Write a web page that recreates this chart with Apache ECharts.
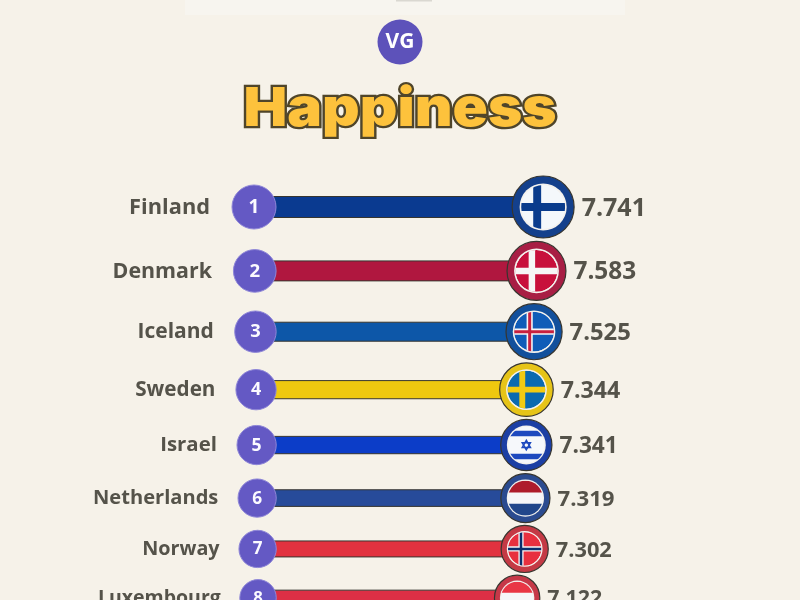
<!DOCTYPE html>
<html><head><meta charset="utf-8">
<style>html,body{margin:0;padding:0;background:#f6f2e9}#c{width:800px;height:600px}</style>
<script src="https://cdn.jsdelivr.net/npm/echarts@6/dist/echarts.min.js"></script>
</head><body><div id="c"></div>
<script>
const countries=['Finland','Denmark','Iceland','Sweden','Israel','Netherlands','Norway','Luxembourg'];
const scores=[7.741,7.583,7.525,7.344,7.341,7.319,7.302,7.122];
const ranks=[1,2,3,4,5,6,7,8];
const barColors=['#0a3a90','#b0173f','#0d57a8','#eec80f','#0c3dc8','#274b9a','#e2323f','#dc2f45'];
const ringColors=['#14408c','#a81e44','#12509c','#e6c418','#1c3fa4','#2b4b90','#c43a45','#c63848'];
const flagKinds=['nordic','nordic','nordic2','nordic','israel','tricolor','nordic2','tricolor'];
const flagBase=['#f4f8fb','#c8103c','#0f5cb8','#0a6ab0','#f6f8fb','#f6f6f8','#e8303f','#f6f6f8'];
const flagCross=['#0a3c8c','#f6f6f6','#f4f4f6','#f2cb12','#1d49bf','#ae1c2c','#f4f4f6','#e93645'];
const flagInner=['','','#c8203f','','','#21468b','#0c2d6b','#3aa0dc'];

const DEPTH=18;                    // perspective offset of the rows
const depth=r=>Math.log(r+DEPTH);
const shrink=r=>(1+DEPTH)/(r+DEPTH);
const INK='#55534a', EDGE='#37352f', PURPLE='#6459c4';

function flag(i,cx,cy,R){
  const k=flagKinds[i],base=flagBase[i],c=flagCross[i],n=flagInner[i],ch=[];
  const rect=(x,y,w,h,fill)=>({type:'rect',shape:{x:cx+x*R,y:cy+y*R,width:w*R,height:h*R},style:{fill}});
  ch.push({type:'circle',shape:{cx,cy,r:R},style:{fill:base}});
  if(k==='nordic'||k==='nordic2'){
    const t=i===0?0.36:0.31, vx=i===0?-0.27:-0.22;
    ch.push(rect(-1,-t/2,2,t,c),rect(vx-t/2,-1,t,2,c));
    if(k==='nordic2'){ch.push(rect(-1,-0.075,2,0.15,n),rect(vx-0.075,-1,0.15,2,n));}
  }else if(k==='tricolor'){
    ch.push(rect(-1,-1,2,0.68,c),rect(-1,0.33,2,0.68,n));
  }else{
    ch.push(rect(-1,-0.78,2,0.3,c),rect(-1,0.48,2,0.3,c));
    const s=0.26,tri=d=>[[cx,cy+d*s*R],[cx-0.87*s*R,cy-d*0.5*s*R],[cx+0.87*s*R,cy-d*0.5*s*R]];
    ch.push({type:'polygon',shape:{points:tri(-1)},style:{fill:'none',stroke:c,lineWidth:1.5}},
            {type:'polygon',shape:{points:tri(1)},style:{fill:'none',stroke:c,lineWidth:1.5}});
  }
  return {type:'group',clipPath:{type:'circle',shape:{cx,cy,r:R}},children:ch};
}

function renderRow(params,api){
  const i=params.dataIndex,r=api.value(2),s=shrink(r);
  const [cx,cy]=api.coord([api.value(0),api.value(1)]);
  const x0=api.coord([0,api.value(1)])[0];
  const startX=x0+36+(1-s)*15;
  const barH=21*s, ringR=31*s, rankR=22*Math.pow(s,0.6), nameSize=21.8*Math.pow(s,0.35), valSize=25*Math.pow(s,0.5);
  const ch=[];
  ch.push({type:'rect',shape:{x:startX,y:cy-barH/2,width:cx-startX,height:barH},style:{fill:barColors[i],stroke:EDGE,lineWidth:1}});
  ch.push({type:'circle',shape:{cx:startX,cy,r:rankR},style:{fill:PURPLE,stroke:'#8f87d8',lineWidth:1}});
  ch.push({type:'text',style:{text:String(r),x:startX,y:cy+0.5,align:'center',verticalAlign:'middle',fill:'#fbfaff',font:'700 '+(19*Math.pow(s,0.4)).toFixed(1)+'px "Open Sans"'}});
  ch.push({type:'text',style:{text:countries[i],x:x0-8+(1-s)*40,y:cy+0.5,align:'right',verticalAlign:'middle',fill:INK,font:'700 '+nameSize.toFixed(1)+'px "Open Sans"'}});
  ch.push({type:'circle',shape:{cx,cy,r:ringR},style:{fill:ringColors[i],stroke:EDGE,lineWidth:1.2}});
  ch.push({type:'circle',shape:{cx,cy,r:ringR*0.76},style:{fill:'#f4f2ee'}});
  ch.push(flag(i,cx,cy,ringR*0.71));
  ch.push({type:'text',style:{text:scores[i].toFixed(3),x:cx+ringR+7.5,y:cy+1.5,align:'left',verticalAlign:'middle',fill:INK,font:'700 '+valSize.toFixed(1)+'px "Open Sans"'}});
  return {type:'group',children:ch};
}

const rowData=ranks.map((r,i)=>[scores[i],depth(r),r]);
const topD=depth(1)-207/1246, botD=depth(1)+393/1246;
const chart=echarts.init(document.getElementById('c'),null,{renderer:'canvas',width:800,height:600});
chart.setOption({
  animation:false,
  backgroundColor:'#f6f2e9',
  grid:{left:218,right:0,top:0,bottom:0},
  xAxis:{type:'value',min:0,max:13.857,show:false},
  yAxis:{type:'value',min:topD,max:botD,inverse:true,show:false},
  graphic:[
    {type:'rect',shape:{x:185,y:0,width:440,height:15},style:{fill:'#f7f5ef'},z:0},
    {type:'rect',shape:{x:396,y:0,width:36,height:1.5},style:{fill:'#dad8d1'},z:0},
    {type:'group',children:[
      {type:'circle',shape:{cx:400,cy:42,r:22.5},style:{fill:'#5d52ba'}},
      {type:'text',style:{text:'VG',x:400,y:42,align:'center',verticalAlign:'middle',fill:'#fff',font:'700 21px "Open Sans"'}}
    ]},
    {type:'text',x:400,y:110,originX:0,originY:0,scaleX:1.08,scaleY:1,
     style:{text:'Happiness',x:0,y:0,align:'center',verticalAlign:'middle',font:'900 54px Inter',fill:'#fdc23c',stroke:'#4f452a',lineWidth:4.5,lineJoin:'round',strokeFirst:true}}
  ],
  series:[{type:'custom',coordinateSystem:'cartesian2d',clip:false,silent:true,encode:{x:0,y:1},data:rowData,renderItem:renderRow}]
});
</script></body></html>
